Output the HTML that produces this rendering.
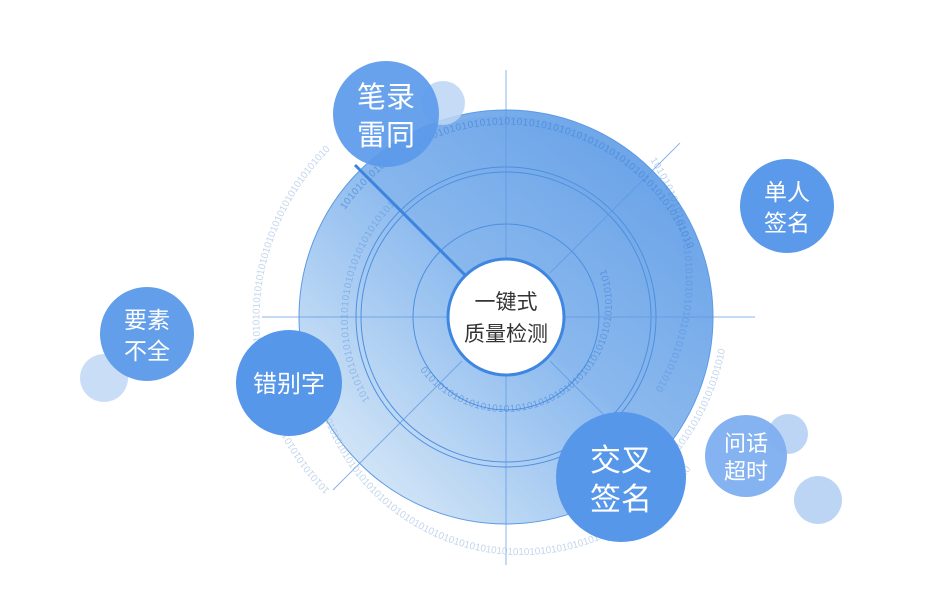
<!DOCTYPE html>
<html><head><meta charset="utf-8"><style>
html,body{margin:0;padding:0;background:#fff;width:936px;height:601px;overflow:hidden}
svg text{font-family:"Liberation Sans","Noto Sans CJK SC",sans-serif}
</style></head><body>
<svg width="936" height="601" viewBox="0 0 936 601" xmlns="http://www.w3.org/2000/svg">
<defs>
<linearGradient id="lg" x1="0.85" y1="0.15" x2="0.15" y2="0.85">
<stop offset="0" stop-color="#6ea6e9"/><stop offset="0.5" stop-color="#8fbcef"/><stop offset="1" stop-color="#cfe3f6"/>
</linearGradient>
<linearGradient id="lg2" x1="0.8" y1="0.1" x2="0.2" y2="0.9">
<stop offset="0" stop-color="#6aa3e8"/><stop offset="1" stop-color="#9cc4f0"/>
</linearGradient>
<path id="a1" d="M 345 210 A 195 195 0 0 1 690 385"/>
<path id="a2" d="M 420 370 A 100 100 0 0 0 590 240"/>
<path id="a3" d="M 330 490 A 240 240 0 0 1 330 150"/>
<path id="a4" d="M 325 420 A 210 210 0 0 0 690 470"/>
<path id="a5" d="M 370 400 A 160 160 0 0 1 395 205"/>
<path id="a6" d="M 650 160 A 215 215 0 0 1 655 390"/>
<path id="a7" d="M 680 450 A 235 235 0 0 0 725 350"/>
</defs>
<!-- big disc -->
<circle cx="506" cy="317" r="207" fill="url(#lg)" stroke="#5c9ae6" stroke-width="1"/>
<!-- darker sector from upper-left line clockwise to bottom-right -->
<path d="M506 317 L360 171 A207 207 0 0 1 660 455 Z" fill="url(#lg2)" opacity="0.75"/>
<!-- rings -->
<circle cx="506" cy="317" r="150" fill="none" stroke="#4e8fe0" stroke-width="1"/>
<circle cx="506" cy="317" r="145" fill="none" stroke="#4e8fe0" stroke-width="1"/>
<circle cx="506" cy="317" r="93" fill="none" stroke="#4e8fe0" stroke-width="1"/>
<!-- cross lines -->
<g stroke="#5b97e3" stroke-width="1" opacity="0.7">
<line x1="506" y1="70" x2="506" y2="565"/>
<line x1="262" y1="317" x2="755" y2="317"/>
<line x1="333" y1="490" x2="462" y2="361"/>
<line x1="550" y1="273" x2="680" y2="143"/>
<line x1="550" y1="361" x2="610" y2="421"/>
</g>
<line x1="355" y1="165" x2="465" y2="275" stroke="#3d84df" stroke-width="3"/>
<!-- binary text -->
<g font-size="10" fill="#3f7fd6" opacity="0.6" letter-spacing="0.5">
<text><textPath href="#a1">1010101010101010101010101010101010101010101010101010101010101010101010</textPath></text>
<text opacity="0.9"><textPath href="#a2">01010101010101010101010101010101010101010101010101</textPath></text>
<text opacity="0.6"><textPath href="#a5">1010101010101010101010101010101010101010101</textPath></text>
<text opacity="0.6"><textPath href="#a6">1010101010101010101010101010101010101010101010101010</textPath></text>
</g>
<g font-size="10" fill="#9bbbe0" opacity="0.6">
<text><textPath href="#a3">10101010101010101010101010101010101010101010101010101010101010101010101010101010</textPath></text>
<text><textPath href="#a4">0101010101010101010101010101010101010101010101010101010101010101010101010101010101</textPath></text>
<text><textPath href="#a7">1010101010101010101010101010</textPath></text>
</g>
<!-- center -->
<circle cx="506" cy="317" r="58" fill="#fff" stroke="#3f86e0" stroke-width="3"/>
<text x="506" y="309" font-size="21" fill="#333" text-anchor="middle">一键式</text>
<text x="506" y="341" font-size="21" fill="#333" text-anchor="middle">质量检测</text>
<!-- light circles -->
<circle cx="443" cy="103" r="22" fill="#bcd6f5" opacity="0.85"/>
<circle cx="104" cy="378" r="24" fill="#c9ddf6"/>
<circle cx="788" cy="434" r="20" fill="#bcd5f5"/>
<circle cx="818" cy="500" r="24" fill="#bcd5f5"/>
<!-- bubbles -->
<circle cx="386" cy="114" r="53" fill="#5b9aea" opacity="0.92"/>
<text x="386" y="107" font-size="29" fill="#fff" text-anchor="middle">笔录</text>
<text x="386" y="145" font-size="29" fill="#fff" text-anchor="middle">雷同</text>
<circle cx="787" cy="206" r="47" fill="#5b9aea"/>
<text x="787" y="200" font-size="23" fill="#fff" text-anchor="middle">单人</text>
<text x="787" y="231" font-size="23" fill="#fff" text-anchor="middle">签名</text>
<circle cx="147" cy="334" r="47" fill="#629ee9"/>
<text x="147" y="328" font-size="23" fill="#fff" text-anchor="middle">要素</text>
<text x="147" y="359" font-size="23" fill="#fff" text-anchor="middle">不全</text>
<circle cx="289" cy="383" r="53" fill="#5797e9"/>
<text x="289" y="392" font-size="24" fill="#fff" text-anchor="middle">错别字</text>
<circle cx="621" cy="477" r="65" fill="#5697ea"/>
<text x="621" y="471" font-size="31" fill="#fff" text-anchor="middle">交叉</text>
<text x="621" y="510" font-size="31" fill="#fff" text-anchor="middle">签名</text>
<circle cx="746" cy="456" r="41" fill="#7eaef0" opacity="0.95"/>
<text x="746" y="451" font-size="22" fill="#fff" text-anchor="middle">问话</text>
<text x="746" y="479" font-size="22" fill="#fff" text-anchor="middle">超时</text>
</svg>
</body></html>
